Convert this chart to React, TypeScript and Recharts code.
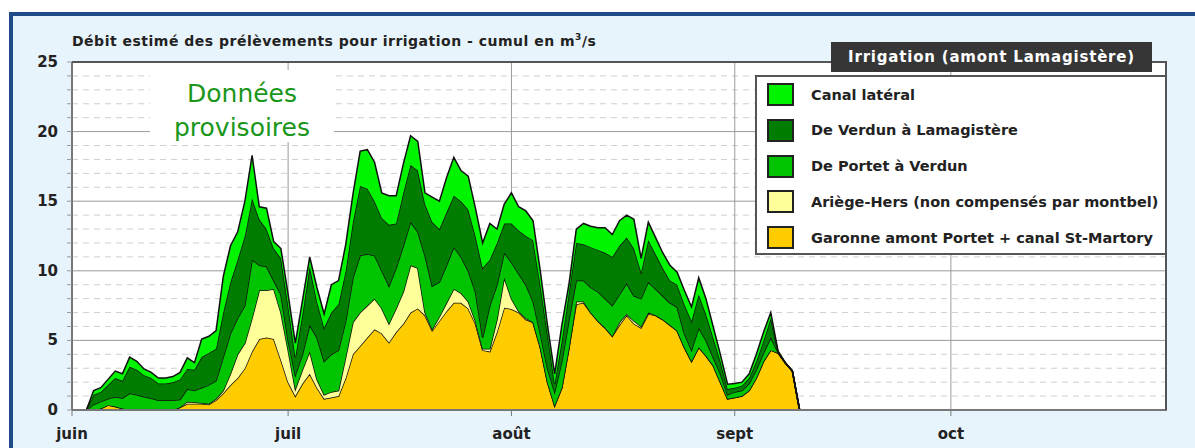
import { AreaChart, Area, XAxis, YAxis, CartesianGrid } from 'recharts';

// one value per day, index 0 = 1 juin
const garonne = [
  0, 0, 0, 0, 0.1, 0.35, 0.25, 0.1, 0, 0,
  0, 0, 0, 0, 0, 0.2, 0.45, 0.45, 0.45, 0.4,
  0.7, 1.2, 1.8, 2.3, 3.0, 4.2, 5.1, 5.2, 5.1, 3.6,
  2.0, 1.0, 1.9, 2.6, 1.6, 0.8, 0.9, 1.0, 2.3, 4.0,
  4.6, 5.2, 5.8, 5.5, 4.85, 5.6, 6.2, 7.0, 7.3, 6.8,
  5.7, 6.4, 7.1, 7.7, 7.7, 7.3, 6.2, 4.3, 4.2, 5.6,
  7.35, 7.25, 7.0, 6.5, 6.3, 4.5, 2.0, 0.3, 1.6, 4.5,
  7.6, 7.7, 7.0, 6.4, 5.9, 5.3, 6.1, 6.8, 6.2, 5.9,
  6.9, 6.8, 6.5, 6.1, 5.7, 4.5, 3.5, 4.5, 3.9, 3.2,
  2.0, 0.8, 0.9, 1.0, 1.4, 2.3, 3.5, 4.3, 4.1, 3.4,
  2.8, 0,
];
const ariege = [
  0, 0, 0, 0, 0, 0, 0, 0, 0, 0,
  0, 0, 0, 0, 0, 0, 0.15, 0.1, 0.05, 0.05,
  0.1, 0.2, 0.8, 1.7, 1.8, 2.4, 3.5, 3.4, 3.6, 3.4,
  2.3, 0.5, 1.0, 1.6, 0.6, 0.3, 0.4, 0.4, 1.5, 2.3,
  2.4, 2.3, 2.2, 1.8, 1.35, 1.7, 2.3, 3.4, 2.9, 0.2,
  0.1, 0.3, 0.6, 1.0, 0.7, 0.5, 0.2, 0.1, 0.2, 0.9,
  2.15, 0.75, 0.1, 0.1, 0, 0, 0, 0, 0, 0,
  0.2, 0.1, 0, 0, 0, 0, 0.2, 0.1, 0.2, 0.1,
  0.1, 0, 0, 0, 0, 0, 0, 0, 0, 0,
  0, 0, 0, 0, 0, 0, 0, 0, 0, 0,
  0, 0,
];
const portet = [
  0, 0, 0, 0.4, 0.5, 0.45, 0.7, 0.75, 1.2, 1.1,
  0.95, 0.85, 0.7, 0.7, 0.7, 0.55, 0.9, 0.85, 1.1, 1.35,
  1.3, 2.4, 2.9, 2.6, 2.7, 4.2, 1.8, 1.7, 0.6, 1.3,
  0.7, 1.0, 1.1, 1.9, 3.0, 2.4, 2.7, 2.9, 2.6, 3.2,
  4.1, 3.7, 3.1, 2.7, 2.7, 2.9, 3.3, 3.1, 2.6, 4.1,
  3.1, 2.5, 2.7, 3.0, 2.6, 2.2, 2.1, 0.8, 3.1, 2.5,
  1.8, 2.6, 2.7, 2.4, 1.5, 1.0, 1.0, 1.0, 1.9, 2.0,
  1.5, 1.5, 1.8, 2.1, 2.1, 2.2, 2.0, 2.2, 1.8, 2.0,
  2.2, 1.9, 1.7, 1.6, 1.7, 1.0, 0.8, 1.4, 1.1, 0.6,
  0.6, 0.3, 0.4, 0.4, 0.5, 0.6, 0.6, 0.9, 0.05, 0,
  0, 0,
];
const verdun = [
  0, 0, 0, 0.7, 0.7, 1.0, 1.35, 1.25, 1.9, 1.8,
  1.55, 1.45, 1.2, 1.2, 1.3, 1.45, 1.45, 1.5, 2.2, 2.3,
  2.3, 3.2, 3.7, 4.2, 5.0, 4.4, 3.3, 2.7, 2.3, 2.6,
  2.5, 1.3, 2.9, 4.2, 2.6, 2.4, 3.0, 3.3, 3.6, 4.0,
  5.0, 4.7, 3.9, 3.8, 4.4, 3.2, 3.8, 4.1, 4.4, 3.7,
  4.6, 3.8, 3.8, 3.7, 4.0, 4.4, 4.0, 5.0, 3.3, 3.0,
  2.1, 2.8, 3.1, 3.5, 4.4, 3.5, 2.5, 0.6, 1.5, 2.0,
  2.7, 2.6, 2.9, 3.0, 3.3, 3.5, 3.5, 3.3, 3.4, 1.9,
  3.0, 2.5, 2.0, 1.6, 1.6, 2.1, 2.1, 2.4, 1.9, 1.4,
  0.9, 0.4, 0.3, 0.35, 0.4, 0.6, 0.9, 1.4, 0.05, 0,
  0, 0,
];
const canal = [
  0, 0, 0, 0.3, 0.3, 0.4, 0.5, 0.5, 0.7, 0.6,
  0.45, 0.4, 0.4, 0.4, 0.4, 0.5, 0.8, 0.5, 1.3, 1.2,
  1.3, 2.6, 2.6, 2.0, 2.5, 3.1, 0.9, 1.5, 0.5, 0.7,
  0.8, 1.0, 1.0, 0.7, 1.0, 1.0, 2.0, 1.7, 1.9, 2.0,
  2.5, 2.8, 2.8, 1.8, 2.1, 2.0, 2.1, 2.1, 2.1, 0.8,
  1.8, 2.0, 2.5, 2.75, 2.2, 2.4, 2.0, 1.8, 2.6, 1.0,
  1.4, 2.2, 1.7, 1.8, 1.4, 1.0, 0.6, 0.7, 1.1, 0.6,
  1.0, 1.5, 1.5, 1.6, 1.8, 1.6, 1.8, 1.6, 2.1, 1.0,
  1.3, 1.2, 1.1, 1.1, 0.9, 1.0, 1.0, 1.2, 1.1, 0.8,
  0.5, 0.35, 0.3, 0.25, 0.3, 0.5, 0.6, 0.4, 0.05, 0,
  0, 0,
];

const monthTicks = [0, 30, 61, 92, 122];
const monthLabels = ['juin', 'juil', 'août', 'sept', 'oct'];
const yTicks = Array.from({ length: 26 }, (_, i) => i);
const yMajor = [5, 10, 15, 20];

const legendItems = [
  { label: 'Canal latéral', color: '#00f400' },
  { label: 'De Verdun à Lamagistère', color: '#007c00' },
  { label: 'De Portet à Verdun', color: '#00c400' },
  { label: 'Ariège-Hers (non compensés par montbel)', color: '#ffff99' },
  { label: 'Garonne amont Portet + canal St-Martory', color: '#ffcc00' },
];

const data = garonne.map((g, i) => ({
  day: i,
  garonne: g,
  ariege: ariege[i],
  portet: portet[i],
  verdun: verdun[i],
  canal: canal[i],
}));

const FONT = '"DejaVu Sans", Verdana, sans-serif';

const YTick = (props: any) => {
  const v = props.payload.value;
  if (v % 5 !== 0) return <g />;
  return (
    <text x={props.x} y={props.y} dy={5} textAnchor="end" fontFamily={FONT} fontWeight="bold" fontSize={15} fill="#222">
      {v}
    </text>
  );
};

const XTick = (props: any) => {
  const idx = monthTicks.indexOf(props.payload.value);
  return (
    <text x={props.x} y={props.y} dy={21} textAnchor="middle" fontFamily={FONT} fontWeight="bold" fontSize={15} fill="#222">
      {monthLabels[idx]}
    </text>
  );
};

export default function App() {
  return (
    <div style={{ position: 'absolute', left: 0, top: 0, width: 1195, height: 448, overflow: 'hidden', background: '#fff' }}>
      {/* blue frame */}
      <div style={{ position: 'absolute', left: 9, top: 12, width: 1220, height: 480, border: '4px solid #1f4b88', background: '#e8f4fc' }} />

      <div style={{ position: 'absolute', left: 0, top: 0 }}>
        <AreaChart width={1195} height={448} data={data} margin={{ top: 62, right: 28, bottom: 8, left: 32 }}>
          <CartesianGrid
            fill="#fff"
            stroke="#cfcfcf"
            strokeDasharray="6 5"
            vertical={false}
            horizontalValues={yTicks.filter((t) => t % 5 !== 0)}
          />
          <CartesianGrid stroke="#9a9a9a" horizontalValues={yMajor} verticalValues={monthTicks.slice(1)} />
          <XAxis
            dataKey="day"
            type="number"
            domain={[0, 152]}
            ticks={monthTicks}
            interval={0}
            height={30}
            tickSize={6}
            tick={<XTick />}
            axisLine={{ stroke: '#777', strokeWidth: 2 }}
            tickLine={{ stroke: '#777' }}
          />
          <YAxis
            type="number"
            domain={[0, 25]}
            ticks={yTicks}
            interval={0}
            width={40}
            tickSize={5}
            tickMargin={9}
            tick={<YTick />}
            axisLine={{ stroke: '#777', strokeWidth: 2 }}
            tickLine={{ stroke: '#999' }}
          />
          <Area type="linear" dataKey="garonne" stackId="1" stroke="#111" strokeWidth={1.5} fill="#ffcc00" fillOpacity={1} isAnimationActive={false} />
          <Area type="linear" dataKey="ariege" stackId="1" stroke="#111" strokeWidth={1.5} fill="#ffff99" fillOpacity={1} isAnimationActive={false} />
          <Area type="linear" dataKey="portet" stackId="1" stroke="#111" strokeWidth={1.5} fill="#00c400" fillOpacity={1} isAnimationActive={false} />
          <Area type="linear" dataKey="verdun" stackId="1" stroke="#111" strokeWidth={1.5} fill="#007c00" fillOpacity={1} isAnimationActive={false} />
          <Area type="linear" dataKey="canal" stackId="1" stroke="#111" strokeWidth={1.5} fill="#00f400" fillOpacity={1} isAnimationActive={false} />
        </AreaChart>
      </div>

      {/* plot top and right border */}
      <div style={{ position: 'absolute', left: 72, top: 61, width: 1095, height: 349, borderTop: '2px solid #555', borderRight: '2px solid #555', boxSizing: 'border-box', pointerEvents: 'none' }} />

      {/* title */}
      <div style={{ position: 'absolute', left: 72, top: 33, fontFamily: FONT, fontWeight: 'bold', fontSize: 14, letterSpacing: 0.5, lineHeight: '16px', color: '#222', whiteSpace: 'nowrap' }}>
        Débit estimé des prélèvements pour irrigation - cumul en m<span style={{ fontSize: 9, position: 'relative', top: -6 }}>3</span>/s
      </div>

      {/* provisional data notice */}
      <div style={{ position: 'absolute', left: 150, top: 70, width: 184, height: 72, paddingTop: 7, boxSizing: 'border-box', background: '#fff', fontFamily: FONT, fontSize: 25, lineHeight: '34px', color: '#1a961a', textAlign: 'center' }}>
        Données
        <br />
        provisoires
      </div>

      {/* legend */}
      <div style={{ position: 'absolute', left: 755, top: 75, width: 412, height: 180, background: '#fff', border: '2px solid #555', boxSizing: 'border-box', overflow: 'hidden' }}>
        {legendItems.map((it, i) => (
          <div key={it.label} style={{ position: 'absolute', left: 10, top: 5 + i * 35.75, height: 25, display: 'flex', alignItems: 'center' }}>
            <div style={{ width: 27, height: 23, background: it.color, border: '2px solid #222', boxSizing: 'border-box' }} />
            <div style={{ marginLeft: 17, fontFamily: FONT, fontWeight: 'bold', fontSize: 14.5, color: '#222', whiteSpace: 'nowrap' }}>{it.label}</div>
          </div>
        ))}
      </div>
      <div style={{ position: 'absolute', left: 831, top: 42, width: 321, height: 30, background: '#363636', color: '#fff', fontFamily: FONT, fontWeight: 'bold', fontSize: 15, letterSpacing: 0.8, lineHeight: '30px', textAlign: 'center' }}>
        Irrigation (amont Lamagistère)
      </div>
    </div>
  );
}
